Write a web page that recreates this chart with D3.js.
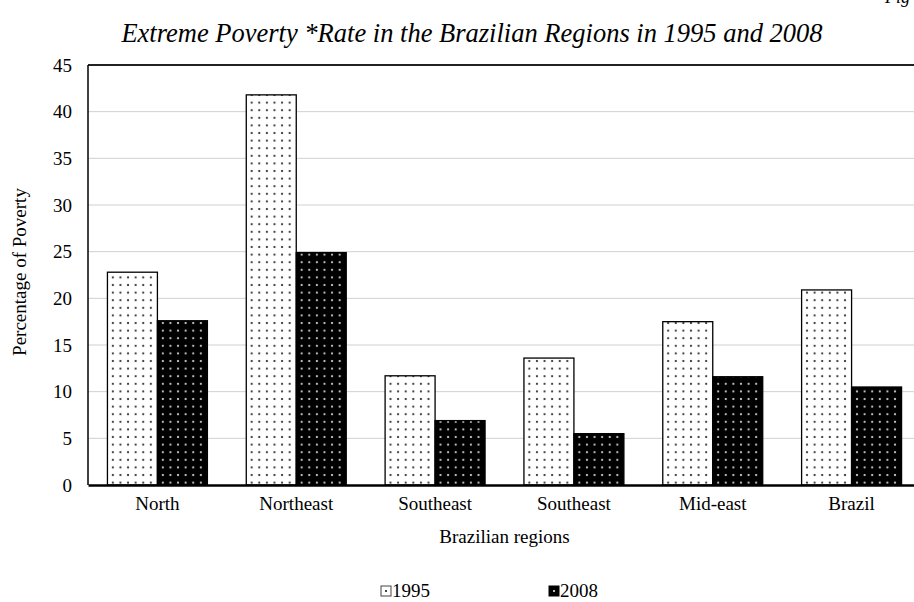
<!DOCTYPE html>
<html><head><meta charset="utf-8">
<script src="https://cdn.jsdelivr.net/npm/d3@7"></script>
<style>body{margin:0;background:#fff;} svg{display:block;}</style>
</head><body>
<svg id="c" width="914" height="602"></svg>
<script>
const categories = ["North", "Northeast", "Southeast", "Southeast", "Mid-east", "Brazil"];
const series = ["1995", "2008"];
const values1995 = [22.8, 41.8, 11.7, 13.6, 17.5, 20.9];
const values2008 = [17.6, 24.9, 6.9, 5.5, 11.6, 10.5];
const yTicks = [0, 5, 10, 15, 20, 25, 30, 35, 40, 45];

const svg = d3.select("#c");
const font = "'Liberation Serif','Times New Roman',serif";
const m = {left: 88, top: 65, right: 921, bottom: 485};

const defs = svg.append("defs");
const p1 = defs.append("pattern").attr("id", "pw").attr("patternUnits", "userSpaceOnUse")
  .attr("width", 7.6).attr("height", 7.6).attr("x", 108).attr("y", 0);
p1.append("rect").attr("width", 7.6).attr("height", 7.6).attr("fill", "#fff");
p1.append("rect").attr("x", 2.8).attr("y", 2.8).attr("width", 2).attr("height", 2).attr("fill", "#444");
const p2 = defs.append("pattern").attr("id", "pb").attr("patternUnits", "userSpaceOnUse")
  .attr("width", 7.6).attr("height", 7.6).attr("x", 158).attr("y", 0);
p2.append("rect").attr("width", 7.6).attr("height", 7.6).attr("fill", "#000");
p2.append("rect").attr("x", 2.8).attr("y", 2.8).attr("width", 2).attr("height", 2).attr("fill", "#bbb");
const fills = {"1995": "url(#pw)", "2008": "url(#pb)"};

const x0 = d3.scaleBand().domain(d3.range(categories.length)).range([m.left, m.right])
  .paddingInner(0.28).paddingOuter(0.14);
const x1 = d3.scaleBand().domain(series).range([0, x0.bandwidth()]);
const y = d3.scaleLinear().domain([0, 45]).range([m.bottom, m.top]);

// gridlines
svg.append("g").selectAll("line").data(yTicks.filter(t => t > 0 && t < 45)).join("line")
  .attr("x1", m.left).attr("x2", 914).attr("y1", d => y(d)).attr("y2", d => y(d))
  .attr("stroke", "#d0d0d0").attr("stroke-width", 1);

// bars
const data = categories.map((c, i) => ({i, vals: [{s: "1995", v: values1995[i]}, {s: "2008", v: values2008[i]}]}));
const g = svg.append("g");
g.selectAll("g").data(data).join("g")
  .attr("transform", d => `translate(${x0(d.i)},0)`)
  .selectAll("rect").data(d => d.vals).join("rect")
  .attr("x", d => x1(d.s)).attr("width", x1.bandwidth())
  .attr("y", d => y(d.v)).attr("height", d => y(0) - y(d.v))
  .attr("fill", d => fills[d.s]).attr("stroke", "#000").attr("stroke-width", 1.3);

// frame lines
svg.append("line").attr("x1", m.left).attr("x2", 914).attr("y1", m.top).attr("y2", m.top)
  .attr("stroke", "#222").attr("stroke-width", 2);
svg.append("line").attr("x1", m.left).attr("x2", m.left).attr("y1", m.top).attr("y2", m.bottom)
  .attr("stroke", "#000").attr("stroke-width", 1.5);

// y axis
const yAxis = svg.append("g").attr("transform", `translate(${m.left},0)`)
  .call(d3.axisLeft(y).tickValues(yTicks).tickSize(0).tickPadding(16));
yAxis.select(".domain").remove();
yAxis.attr("font-family", font).attr("font-size", 19);
yAxis.selectAll("text").attr("font-family", font).attr("font-size", 19).attr("fill", "#000");

// x axis
const xAxis = svg.append("g").attr("transform", `translate(0,${m.bottom})`)
  .call(d3.axisBottom(x0).tickFormat(i => categories[i]).tickSize(0).tickPadding(12));
xAxis.select(".domain").attr("stroke", "#000").attr("stroke-width", 2.5);
xAxis.attr("font-family", font).attr("font-size", 19);
xAxis.selectAll("text").attr("font-family", font).attr("font-size", 19).attr("fill", "#000");

// axis titles
svg.append("text").attr("x", (m.left + m.right) / 2).attr("y", 543).attr("text-anchor", "middle")
  .attr("font-family", font).attr("font-size", 19).text("Brazilian regions");
svg.append("text").attr("transform", `translate(26,${(m.top + m.bottom) / 2 - 3}) rotate(-90)`)
  .attr("text-anchor", "middle").attr("font-family", font).attr("font-size", 19).text("Percentage of Poverty");

// title
svg.append("text").attr("x", 472).attr("y", 42).attr("text-anchor", "middle")
  .attr("font-family", font).attr("font-size", 26.5).attr("font-style", "italic")
  .text("Extreme Poverty *Rate in the Brazilian Regions in 1995 and 2008");
svg.append("text").attr("x", 910).attr("y", 3).attr("text-anchor", "end")
  .attr("font-family", font).attr("font-size", 18).attr("font-style", "italic").text("Fig");

// legend
const legendX = [381, 549];
const lg = svg.append("g").selectAll("g").data(series).join("g")
  .attr("transform", (d, i) => `translate(${legendX[i]},597)`);
lg.append("rect").attr("x", 0).attr("y", -11).attr("width", 10).attr("height", 10)
  .attr("fill", d => d === "1995" ? "#fff" : "#000").attr("stroke", d => d === "1995" ? "#444" : "#000").attr("stroke-width", 1);
lg.append("rect").attr("x", 4).attr("y", -7).attr("width", 2).attr("height", 2)
  .attr("fill", d => d === "1995" ? "#444" : "#bbb");
lg.append("text").attr("x", 11).attr("y", 0).attr("font-family", font).attr("font-size", 19).text(d => d);
</script>
</body></html>
